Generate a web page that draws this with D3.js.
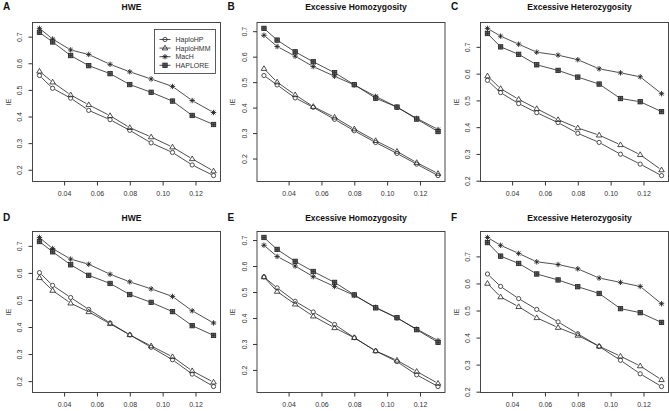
<!DOCTYPE html>
<html><head><meta charset="utf-8">
<script src="https://cdn.jsdelivr.net/npm/d3@7"></script>
<style>body{margin:0;background:#fff;}svg{display:block;font-family:"Liberation Sans",Arial,sans-serif;}</style>
</head><body>
<svg id="chart" width="669" height="411"></svg>
<script>
const xValues = [0.025, 0.033, 0.044, 0.055, 0.068, 0.080, 0.093, 0.106, 0.118, 0.131];
const xTicks = [0.04, 0.06, 0.08, 0.10, 0.12];
const yTicks = [0.2, 0.3, 0.4, 0.5, 0.6, 0.7];
const seriesNames = ["HaploHP", "HaploHMM", "MacH", "HAPLORE"];
const panelLetters = ["A", "B", "C", "D", "E", "F"];
const panelTitles = ["HWE", "Excessive Homozygosity", "Excessive Heterozygosity", "HWE", "Excessive Homozygosity", "Excessive Heterozygosity"];

// Panel A
const aHaploHP  = [0.554, 0.506, 0.469, 0.423, 0.388, 0.348, 0.301, 0.265, 0.218, 0.178];
const aHaploHMM = [0.570, 0.529, 0.481, 0.444, 0.403, 0.358, 0.323, 0.285, 0.241, 0.195];
const aMacH     = [0.731, 0.691, 0.650, 0.633, 0.596, 0.568, 0.541, 0.513, 0.460, 0.415];
const aHAPLORE  = [0.716, 0.680, 0.629, 0.591, 0.561, 0.520, 0.491, 0.458, 0.404, 0.370];
// Panel B
const bHaploHP  = [0.526, 0.489, 0.438, 0.401, 0.354, 0.309, 0.263, 0.220, 0.178, 0.133];
const bHaploHMM = [0.553, 0.500, 0.450, 0.404, 0.362, 0.316, 0.270, 0.228, 0.184, 0.141];
const bMacH     = [0.684, 0.640, 0.602, 0.561, 0.523, 0.489, 0.444, 0.402, 0.358, 0.314];
const bHAPLORE  = [0.711, 0.665, 0.619, 0.580, 0.537, 0.490, 0.437, 0.402, 0.355, 0.306];
// Panel C
const cHaploHP  = [0.575, 0.529, 0.488, 0.454, 0.417, 0.377, 0.343, 0.299, 0.262, 0.219];
const cHaploHMM = [0.591, 0.544, 0.504, 0.469, 0.428, 0.397, 0.370, 0.334, 0.297, 0.240];
const cMacH     = [0.769, 0.740, 0.710, 0.680, 0.669, 0.652, 0.618, 0.603, 0.588, 0.525];
const cHAPLORE  = [0.750, 0.700, 0.672, 0.633, 0.612, 0.587, 0.561, 0.507, 0.495, 0.458];
// Panel D
const dHaploHP  = [0.601, 0.554, 0.509, 0.465, 0.415, 0.371, 0.325, 0.279, 0.226, 0.180];
const dHaploHMM = [0.582, 0.535, 0.488, 0.456, 0.412, 0.371, 0.330, 0.290, 0.238, 0.196];
const dMacH     = [0.731, 0.690, 0.651, 0.632, 0.595, 0.567, 0.541, 0.513, 0.460, 0.415];
const dHAPLORE  = [0.716, 0.678, 0.630, 0.591, 0.561, 0.520, 0.491, 0.457, 0.405, 0.369];
// Panel E
const eHaploHP  = [0.558, 0.516, 0.464, 0.423, 0.375, 0.324, 0.273, 0.232, 0.181, 0.136];
const eHaploHMM = [0.558, 0.502, 0.453, 0.407, 0.362, 0.324, 0.273, 0.237, 0.194, 0.148];
const eMacH     = [0.680, 0.637, 0.600, 0.559, 0.521, 0.487, 0.441, 0.400, 0.357, 0.313];
const eHAPLORE  = [0.710, 0.664, 0.618, 0.579, 0.537, 0.489, 0.439, 0.401, 0.355, 0.306];
// Panel F
const fHaploHP  = [0.635, 0.589, 0.544, 0.504, 0.458, 0.414, 0.367, 0.316, 0.266, 0.219];
const fHaploHMM = [0.600, 0.550, 0.514, 0.473, 0.437, 0.408, 0.368, 0.331, 0.295, 0.244];
const fMacH     = [0.770, 0.741, 0.711, 0.680, 0.670, 0.654, 0.620, 0.604, 0.589, 0.525];
const fHAPLORE  = [0.751, 0.701, 0.674, 0.635, 0.613, 0.588, 0.563, 0.507, 0.492, 0.456];

const panelData = [
  [aHaploHP, aHaploHMM, aMacH, aHAPLORE],
  [bHaploHP, bHaploHMM, bMacH, bHAPLORE],
  [cHaploHP, cHaploHMM, cMacH, cHAPLORE],
  [dHaploHP, dHaploHMM, dMacH, dHAPLORE],
  [eHaploHP, eHaploHMM, eMacH, eHAPLORE],
  [fHaploHP, fHaploHMM, fMacH, fHAPLORE]
];

const svg = d3.select("#chart");
const colLeft = [32.5, 257, 480.5];
const boxW = 188;
const rowTop = [22.5, 231.5];
const rowBottom = [181.5, 392.5];
const titleBase = [10, 221];
const ink = "#222";

function drawSymbol(g, type, x, y) {
  if (type === 0) {
    g.append("circle").attr("cx", x).attr("cy", y).attr("r", 2.1)
      .attr("fill", "none").attr("stroke", ink).attr("stroke-width", 0.8);
  } else if (type === 1) {
    const s = 2.9;
    g.append("path").attr("d", `M${x},${y - s}L${x + s * 0.95},${y + s * 0.62}L${x - s * 0.95},${y + s * 0.62}Z`)
      .attr("fill", "none").attr("stroke", ink).attr("stroke-width", 0.8);
  } else if (type === 2) {
    const s = 2.7, d = 1.9;
    g.append("path").attr("d", `M${x - s},${y}H${x + s}M${x},${y - s}V${y + s}M${x - d},${y - d}L${x + d},${y + d}M${x - d},${y + d}L${x + d},${y - d}`)
      .attr("fill", "none").attr("stroke", ink).attr("stroke-width", 0.9);
  } else {
    const s = 2.2;
    g.append("rect").attr("x", x - s).attr("y", y - s).attr("width", 2 * s).attr("height", 2 * s)
      .attr("fill", "#666").attr("stroke", ink).attr("stroke-width", 0.8);
    g.append("path").attr("d", `M${x - s},${y}H${x + s}M${x},${y - s}V${y + s}`)
      .attr("stroke", ink).attr("stroke-width", 0.6);
  }
}

panelData.forEach((series, p) => {
  const col = p % 3, row = Math.floor(p / 3);
  const left = colLeft[col], right = left + boxW;
  const top = rowTop[row], bottom = rowBottom[row];
  const g = svg.append("g");

  const xr = d3.extent(xValues);
  const xpad = (xr[1] - xr[0]) * 0.04;
  const x = d3.scaleLinear().domain([xr[0] - xpad, xr[1] + xpad]).range([left, right]);
  const all = series.flat();
  const yr = d3.extent(all);
  const ypad = (yr[1] - yr[0]) * 0.04;
  const y = d3.scaleLinear().domain([yr[0] - ypad, yr[1] + ypad]).range([bottom, top]);

  // box
  g.append("rect").attr("x", left).attr("y", top).attr("width", right - left).attr("height", bottom - top)
    .attr("fill", "none").attr("stroke", "#333").attr("stroke-width", 0.9);

  // axes
  const xAxis = d3.axisBottom(x).tickValues(xTicks).tickFormat(d3.format(".2f")).tickSize(4).tickSizeOuter(0);
  const xg = g.append("g").attr("transform", `translate(0,${bottom})`).call(xAxis);
  xg.select(".domain").remove();
  xg.selectAll("line").attr("stroke", "#333");
  xg.selectAll("text").attr("font-size", 7).attr("fill", "#333").attr("dy", null).attr("y", 14.5)
    .attr("font-family", "Liberation Sans, Arial, sans-serif");

  const yAxis = d3.axisLeft(y).tickValues(yTicks.filter(t => t >= y.domain()[0] && t <= y.domain()[1])).tickFormat(d3.format(".1f")).tickSize(4).tickSizeOuter(0);
  const yg = g.append("g").attr("transform", `translate(${left},0)`).call(yAxis);
  yg.select(".domain").remove();
  yg.selectAll("line").attr("stroke", "#333");
  yg.selectAll("text").attr("font-size", 7).attr("fill", "#333").attr("x", null).attr("dy", null)
    .attr("text-anchor", "middle").attr("transform", "translate(-10.5,0) rotate(-90)")
    .attr("font-family", "Liberation Sans, Arial, sans-serif");

  // y label
  g.append("text").attr("transform", `translate(${left - 22},${(top + bottom) / 2}) rotate(-90)`)
    .attr("text-anchor", "middle").attr("font-size", 7).attr("fill", "#333").text("IE");

  // title and letter
  g.append("text").attr("x", (left + right) / 2 + 5).attr("y", titleBase[row]).attr("text-anchor", "middle")
    .attr("font-size", 8.5).attr("font-weight", "bold").attr("fill", "#111").text(panelTitles[p]);
  g.append("text").attr("x", left - 29.5).attr("y", titleBase[row] - 0.5).attr("font-size", 10)
    .attr("font-weight", "bold").attr("fill", "#111").text(panelLetters[p]);

  // series
  series.forEach((vals, si) => {
    const pts = vals.map((v, i) => [x(xValues[i]), y(v)]);
    const gap = 2.6;
    for (let i = 0; i < pts.length - 1; i++) {
      const [x1, y1] = pts[i], [x2, y2] = pts[i + 1];
      const dx = x2 - x1, dy = y2 - y1, len = Math.hypot(dx, dy);
      if (len <= 2 * gap) continue;
      const ux = dx / len, uy = dy / len;
      g.append("line").attr("x1", x1 + ux * gap).attr("y1", y1 + uy * gap)
        .attr("x2", x2 - ux * gap).attr("y2", y2 - uy * gap)
        .attr("stroke", ink).attr("stroke-width", 0.8);
    }
    pts.forEach(([px, py]) => drawSymbol(g, si, px, py));
  });

  // legend in panel A
  if (p === 0) {
    const lx = 154.5, ly = 29.5, lw = 61, lh = 44;
    g.append("rect").attr("x", lx).attr("y", ly).attr("width", lw).attr("height", lh)
      .attr("fill", "#fff").attr("stroke", "#333").attr("stroke-width", 0.8);
    seriesNames.forEach((name, i) => {
      const yy = ly + 10 + i * 8.6;
      g.append("line").attr("x1", lx + 5).attr("x2", lx + 16).attr("y1", yy).attr("y2", yy)
        .attr("stroke", ink).attr("stroke-width", 0.8);
      drawSymbol(g, i, lx + 10.5, yy);
      g.append("text").attr("x", lx + 21).attr("y", yy + 2.5).attr("font-size", 7).attr("fill", "#333").text(name);
    });
  }
});
</script>
</body></html>
